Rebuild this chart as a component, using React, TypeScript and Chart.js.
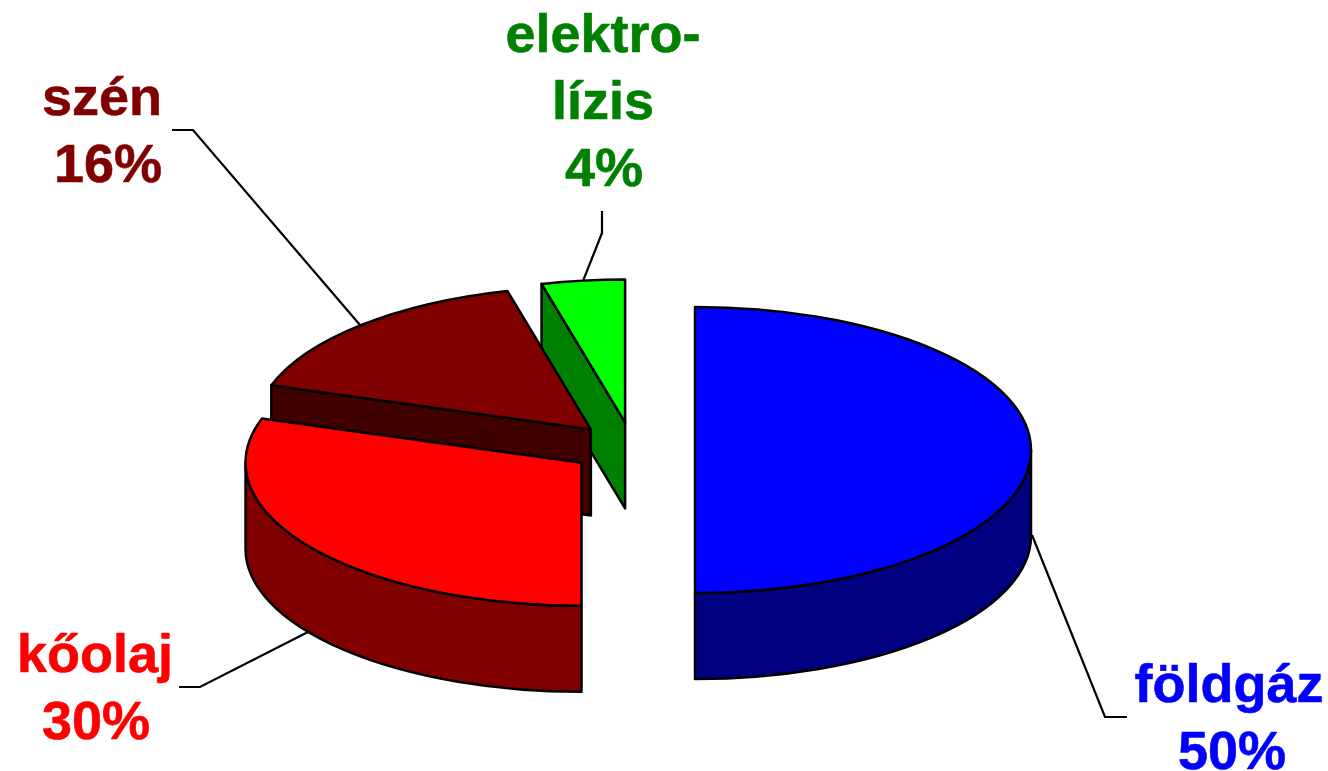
import { useEffect, useRef } from "react";
import { Chart, registerables } from "chart.js";

Chart.register(...registerables);

// Energy sources and their shares, clockwise from twelve o'clock.
const sources = ["földgáz", "kőolaj", "szén", "elektrolízis"];
const shares = [50, 30, 16, 4];
const topColors = ["#0000ff", "#ff0000", "#800000", "#00ff00"];
const wallColors = ["#000080", "#800000", "#400000", "#008000"];
const textColors = ["#0000ff", "#ff0000", "#800000", "#008000"];
const labelLines = [["földgáz"], ["kőolaj"], ["szén"], ["elektro-", "lízis"]];

// Slices are painted from the back of the pie to the front.
const paintOrder = [3, 2, 1, 0];

// Label anchors: centre x of the name, centre x of the percentage, first baseline.
const labelX = [1229, 95, 102, 603];
const percentX = [1232, 96, 108, 604];
const labelY = [702, 672, 115, 52];
const LINE_STEP = 67;
const FONT = 'bold 54px "Liberation Sans"';

// Leader lines from each slice to its label.
const leaders = [
  [[1032, 535], [1105, 717], [1127, 717]],
  [[308, 632], [200, 687], [179, 687]],
  [[360, 325], [193, 130], [172, 130]],
  [[583, 281], [602, 233], [602, 211]],
];

const WIDTH = 1328;
const HEIGHT = 771;
const RADIUS = 336;
const CENTER_X = 632;
const CENTER_Y = 448;
const SQUASH = 143 / 336;
const DEPTH = 86;
const EXPLODE = 63;
// Fine placement of each exploded slice on top of the radial pull, in screen pixels.
const nudgeX = [0, 0.5, 2, 1];
const nudgeY = [2, -1, 1, 1];

const tilt = (ctx: CanvasRenderingContext2D, chart: any) => {
  const midY = (chart.chartArea.top + chart.chartArea.bottom) / 2;
  ctx.translate(0, CENTER_Y);
  ctx.scale(1, SQUASH);
  ctx.translate(0, -midY);
};

// Fills a path built in tilted space, then outlines it with an even pen.
const paintPath = (
  ctx: CanvasRenderingContext2D,
  chart: any,
  build: () => void,
  fill: string | null,
) => {
  ctx.save();
  tilt(ctx, chart);
  ctx.beginPath();
  build();
  ctx.restore();
  if (fill) {
    ctx.fillStyle = fill;
    ctx.fill();
  }
  ctx.strokeStyle = "#000";
  ctx.lineWidth = 2.5;
  ctx.lineJoin = "round";
  ctx.stroke();
};

const drawWalls = (ctx: CanvasRenderingContext2D, chart: any, arc: any, color: string) => {
  const { x, y, outerRadius: r, startAngle, endAngle } = arc;
  const drop = DEPTH / SQUASH;
  const eps = 1e-6;

  const cutFace = (a: number) => {
    const ex = x + r * Math.cos(a);
    const ey = y + r * Math.sin(a);
    paintPath(ctx, chart, () => {
      ctx.moveTo(x, y);
      ctx.lineTo(ex, ey);
      ctx.lineTo(ex, ey + drop);
      ctx.lineTo(x, y + drop);
      ctx.closePath();
    }, color);
  };
  if (-Math.cos(startAngle) > eps) cutFace(startAngle);
  if (Math.cos(endAngle) > eps) cutFace(endAngle);

  // Rim: only the part of the circumference that faces the viewer.
  const a0 = Math.max(startAngle, 0);
  const a1 = Math.min(endAngle, Math.PI);
  if (a1 > a0) {
    paintPath(ctx, chart, () => {
      ctx.arc(x, y, r, a0, a1);
      ctx.lineTo(x + r * Math.cos(a1), y + r * Math.sin(a1) + drop);
      ctx.arc(x, y + drop, r, a1, a0, true);
      ctx.closePath();
    }, color);
  }
};

const piePlugin = {
  id: "tiltedPie",
  // Pull every slice out from the common centre along its bisector.
  afterDatasetsUpdate(chart: any) {
    chart.getDatasetMeta(0).data.forEach((arc: any, i: number) => {
      const mid = (arc.startAngle + arc.endAngle) / 2;
      arc.x += Math.cos(mid) * EXPLODE + nudgeX[i];
      arc.y += Math.sin(mid) * EXPLODE + nudgeY[i] / SQUASH;
    });
  },
  // Paints walls and tops in depth order instead of dataset order.
  beforeDatasetDraw(chart: any) {
    const ctx: CanvasRenderingContext2D = chart.ctx;
    const arcs = chart.getDatasetMeta(0).data;
    for (const i of paintOrder) {
      const arc = arcs[i];
      drawWalls(ctx, chart, arc, wallColors[i]);
      ctx.save();
      tilt(ctx, chart);
      arc.draw(ctx, chart.chartArea);
      ctx.restore();
      paintPath(ctx, chart, () => {
        ctx.moveTo(arc.x, arc.y);
        ctx.arc(arc.x, arc.y, arc.outerRadius, arc.startAngle, arc.endAngle);
        ctx.closePath();
      }, null);
    }
    return false;
  },
  afterDraw(chart: any) {
    const ctx: CanvasRenderingContext2D = chart.ctx;
    ctx.save();
    ctx.strokeStyle = "#000";
    ctx.lineWidth = 2.2;
    ctx.lineJoin = "miter";
    for (const pts of leaders) {
      ctx.beginPath();
      pts.forEach(([px, py], k) => (k ? ctx.lineTo(px, py) : ctx.moveTo(px, py)));
      ctx.stroke();
    }
    ctx.font = FONT;
    ctx.textAlign = "center";
    ctx.textBaseline = "alphabetic";
    ctx.lineJoin = "round";
    ctx.lineWidth = 0.6;
    shares.forEach((share, i) => {
      ctx.fillStyle = textColors[i];
      ctx.strokeStyle = textColors[i];
      const names = labelLines[i];
      names.forEach((line, k) => {
        const by = labelY[i] + k * LINE_STEP;
        ctx.fillText(line, labelX[i], by);
        ctx.strokeText(line, labelX[i], by);
      });
      const by = labelY[i] + names.length * LINE_STEP;
      ctx.fillText(`${share}%`, percentX[i], by);
      ctx.strokeText(`${share}%`, percentX[i], by);
    });
    ctx.restore();
  },
};

export default function App() {
  const ref = useRef<HTMLCanvasElement>(null);

  useEffect(() => {
    const chart = new Chart(ref.current!, {
      type: "pie",
      data: {
        labels: sources,
        datasets: [
          {
            data: shares,
            backgroundColor: topColors,
            borderWidth: 0,
            radius: RADIUS,
            clip: false,
          } as any,
        ],
      },
      options: {
        responsive: false,
        animation: false,
        layout: { padding: { left: 0, right: WIDTH - 2 * CENTER_X, top: 0, bottom: 0 } },
        plugins: { legend: { display: false }, tooltip: { enabled: false } },
      },
      plugins: [piePlugin],
    });
    return () => chart.destroy();
  }, []);

  return (
    <div style={{ position: "fixed", left: 0, top: 0, width: WIDTH, height: HEIGHT, background: "#fff" }}>
      <canvas ref={ref} width={WIDTH} height={HEIGHT} style={{ display: "block" }} />
    </div>
  );
}
